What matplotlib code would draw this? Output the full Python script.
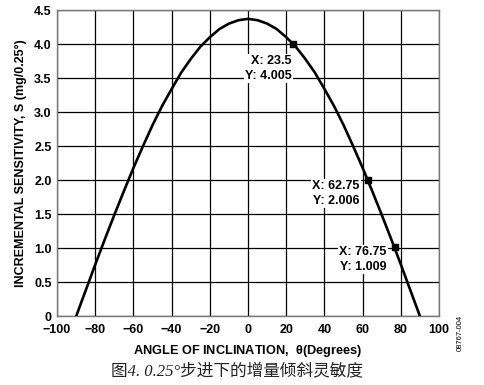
import numpy as np
import matplotlib
matplotlib.use("Agg")
import matplotlib.pyplot as plt

# curve
angle = [-90, -85, -80, -75, -70, -65, -60, -55, -50, -45, -40, -35, -30, -25, -20, -15, -10, -5,
         0, 5, 10, 15, 20, 25, 30, 35, 40, 45, 50, 55, 60, 65, 70, 75, 80, 85, 90]
sens = [0.0, 0.38, 0.76, 1.13, 1.49, 1.84, 2.18, 2.50, 2.81, 3.09, 3.34, 3.58, 3.78, 3.96, 4.10, 4.22, 4.30, 4.35,
        4.37, 4.35, 4.30, 4.22, 4.10, 3.96, 3.78, 3.58, 3.34, 3.09, 2.81, 2.50, 2.18, 1.84, 1.49, 1.13, 0.76, 0.38, 0.0]

# marked points
mark_x = [23.5, 62.75, 76.75]
mark_y = [4.005, 2.006, 1.009]
mark_off = [(-1, -25), (-8, -14), (-8, -12)]

xticks = [-100, -80, -60, -40, -20, 0, 20, 40, 60, 80, 100]
xticklabels = ["\u2212100", "\u221280", "\u221260", "\u221240", "\u221220", "0", "20", "40", "60", "80", "100"]
yticks = [0, 0.5, 1.0, 1.5, 2.0, 2.5, 3.0, 3.5, 4.0, 4.5]
yticklabels = ["0", "0.5", "1.0", "1.5", "2.0", "2.5", "3.0", "3.5", "4.0", "4.5"]

plt.rcParams['font.family'] = ['Liberation Sans', 'DejaVu Sans']

fig = plt.figure(figsize=(4.84, 3.85), dpi=100)
ax = fig.add_axes([0.118, 0.179, 0.789, 0.795])

ax.plot(angle, sens, color="black", lw=1.9, zorder=3)
ax.scatter(mark_x, mark_y, marker="s", s=24, color="black", zorder=5)

for x, y, off in zip(mark_x, mark_y, mark_off):
    ax.annotate("X: %s\nY: %.3f" % (x, y), (x, y), xytext=off, textcoords="offset pixels",
                ha="right", va="center", fontsize=9, fontweight="bold", linespacing=1.3,
                bbox=dict(boxstyle="square,pad=0.1", fc="white", ec="none"), zorder=4)

ax.set_xlim(-100, 100)
ax.set_ylim(0, 4.5)
ax.set_xticks(xticks)
ax.set_xticklabels(xticklabels)
ax.set_yticks(yticks)
ax.set_yticklabels(yticklabels)
ax.tick_params(length=0, labelsize=9)
ax.tick_params(axis="x", pad=6)
ax.tick_params(axis="y", pad=4)
for lab in ax.get_xticklabels() + ax.get_yticklabels():
    lab.set_fontweight("bold")
ax.grid(True, color="black", lw=0.9)
ax.set_axisbelow(True)
for s in ax.spines.values():
    s.set_color("#777777")
    s.set_linewidth(1.0)

ax.set_xlabel(r"ANGLE OF INCLINATION,  $\mathregular{\theta}$(Degrees)", fontsize=9.2, fontweight="bold", labelpad=5)
ax.set_ylabel("INCREMENTAL SENSITIVITY, S (mg/0.25\u00b0)", fontsize=9, fontweight="bold", labelpad=5)

fig.text(0.950, 0.135, "08767-004", rotation=90, fontsize=5.5, ha="center", va="center")
fig.text(0.49, 0.035, "图4. 0.25°步进下的增量倾斜灵敏度", fontsize=12, ha="center", va="center",
         color="#222222", style="italic", family=["Liberation Serif", "Noto Sans CJK SC"])

fig.savefig("out.png", dpi=100)
